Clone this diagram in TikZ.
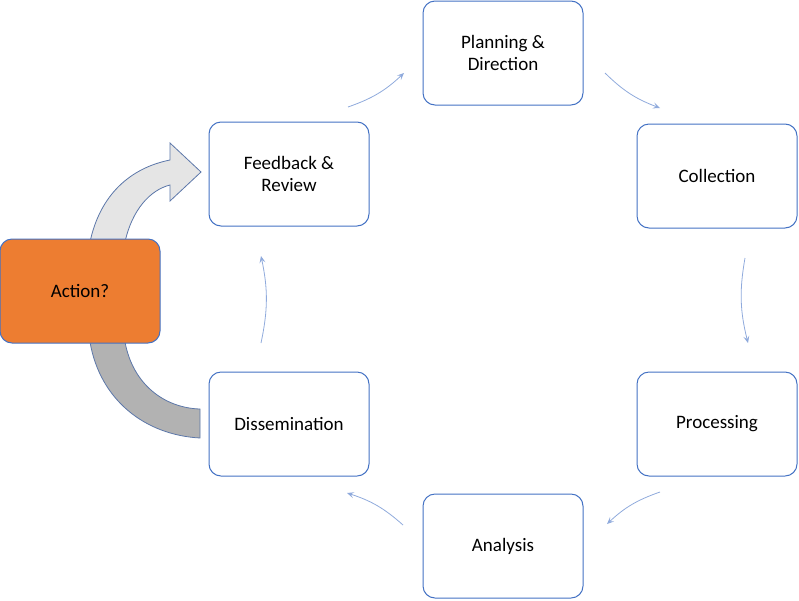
\documentclass[tikz,border=0pt]{standalone}
\usepackage{fontspec}
\setmainfont{Carlito}
\usetikzlibrary{arrows.meta}
\definecolor{bx}{HTML}{4472C4}
\definecolor{ar}{HTML}{8FAADC}
\definecolor{org}{HTML}{ED7D31}
\begin{document}
\begin{tikzpicture}[x=1pt,y=-1pt,
 box/.style={draw=bx,line width=1pt,rounded corners=12pt,minimum width=160pt,minimum height=104pt,align=center,font=\fontsize{19}{22}\selectfont,fill=white},
 flow/.style={draw=ar,line width=0.8pt,-{Stealth[length=7pt,width=6pt,inset=3pt]}}]
\useasboundingbox (0,0) rectangle (799,600);
% block arrows
\fill[gray!20,draw=bx!60!gray,line width=0.8pt] (90,242) .. controls (100,195) and (130,168) .. (170,160) -- (170,143) -- (201,172) -- (170,201) -- (170,185) .. controls (150,190) and (132,210) .. (125,242) -- cycle;
\fill[gray!60,draw=bx!60!gray,line width=0.8pt] (90,342) .. controls (100,400) and (145,435) .. (200,438) -- (200,409) .. controls (165,408) and (133,385) .. (125,342) -- cycle;
\node[box] (plan) at (503,53) {Planning \&\\Direction};
\node[box] (coll) at (717,176) {Collection};
\node[box] (proc) at (717,424) {Processing};
\node[box] (anal) at (503,546) {Analysis};
\node[box] (diss) at (289,424) {Dissemination};
\node[box] (feed) at (289,174) {Feedback \&\\Review};
\node[box,fill=org,draw=bx] (act) at (80,291) {Action?};
\coordinate (a1) at (605,73); \coordinate (b1) at (660,108);
\coordinate (a2) at (745,258); \coordinate (b2) at (748,343);
\coordinate (a3) at (660,492); \coordinate (b3) at (607,524);
\coordinate (a4) at (403,525); \coordinate (b4) at (347,493);
\coordinate (a5) at (261,343); \coordinate (b5) at (261,256);
\coordinate (a6) at (348,107); \coordinate (b6) at (404,73);
\draw[flow] (a1) to[bend right=12] (b1);
\draw[flow] (a2) to[bend right=12] (b2);
\draw[flow] (a3) to[bend right=12] (b3);
\draw[flow] (a4) to[bend right=12] (b4);
\draw[flow] (a5) to[bend right=12] (b5);
\draw[flow] (a6) to[bend right=12] (b6);
\end{tikzpicture}
\end{document}
